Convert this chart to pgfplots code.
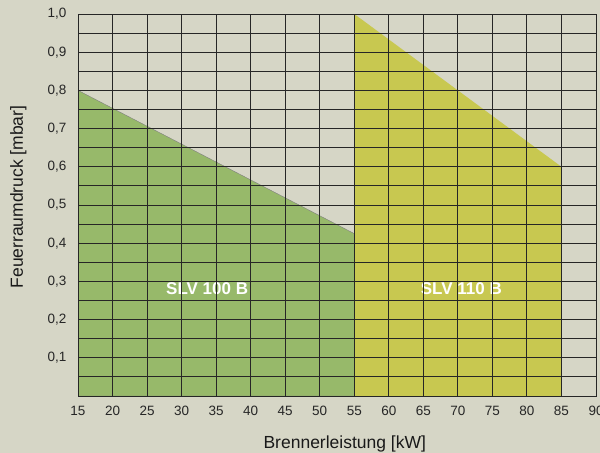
\documentclass[border=0pt]{standalone}
\usepackage{fontspec}
\setmainfont{Liberation Sans}
\usepackage{pgfplots}
\pgfplotsset{compat=1.18}
\definecolor{bgc}{HTML}{D6D6C6}
\definecolor{greenfill}{HTML}{97B96A}
\definecolor{yellowfill}{HTML}{C8C850}
\begin{document}
\begin{tikzpicture}[x=1bp,y=1bp]
\fill[bgc] (0,0) rectangle (600,453);
\path[use as bounding box] (0,0) rectangle (600,453);
\begin{axis}[
  at={(78bp,57bp)}, anchor=south west,
  scale only axis, width=518bp, height=382bp,
  xmin=15, xmax=90, ymin=0, ymax=1,
  axis background/.style={fill=bgc},
  xtick={15,20,...,90},
  ytick={0.1,0.2,0.3,0.4,0.5,0.6,0.7,0.8,0.9,1.0},
  minor ytick={0.05,0.15,0.25,0.35,0.45,0.55,0.65,0.75,0.85,0.95},
  major tick length=0pt, minor tick length=0pt,
  grid=both,
  major grid style={black!85, line width=0.9bp},
  minor grid style={black!85, line width=0.9bp},
  axis line style={black!85, line width=0.9bp},
  axis on top,
  /pgf/number format/assume math mode=true,
  yticklabel style={/pgf/number format/use comma, /pgf/number format/fixed, /pgf/number format/fixed zerofill, /pgf/number format/precision=1, xshift=-8bp},
  ticklabel style={font=\fontsize{13.5bp}{15bp}\selectfont, text=black!85},
  xticklabel style={yshift=-7bp},
  xlabel={Brennerleistung [kW]},
  ylabel={Feuerraumdruck [mbar]},
  label style={font=\fontsize{17.5bp}{19bp}\selectfont, text=black!90},
  xlabel style={at={(axis description cs:0.515,-0.125)}, anchor=center},
  ylabel style={at={(axis description cs:-0.115,0.521)}, anchor=center, rotate=0},
]
\addplot[fill=greenfill, draw=gray] coordinates {(15,0.8) (55,0.425)} \closedcycle;
\addplot[fill=yellowfill, draw=none] coordinates {(55,1.0) (85,0.6)} \closedcycle;
\node[text=white, font=\bfseries\fontsize{17bp}{19bp}\selectfont] at (axis cs:33.7,0.28) {SLV 100 B};
\node[text=white, font=\bfseries\fontsize{17bp}{19bp}\selectfont] at (axis cs:70.5,0.28) {SLV 110 B};
\end{axis}
\end{tikzpicture}
\end{document}
